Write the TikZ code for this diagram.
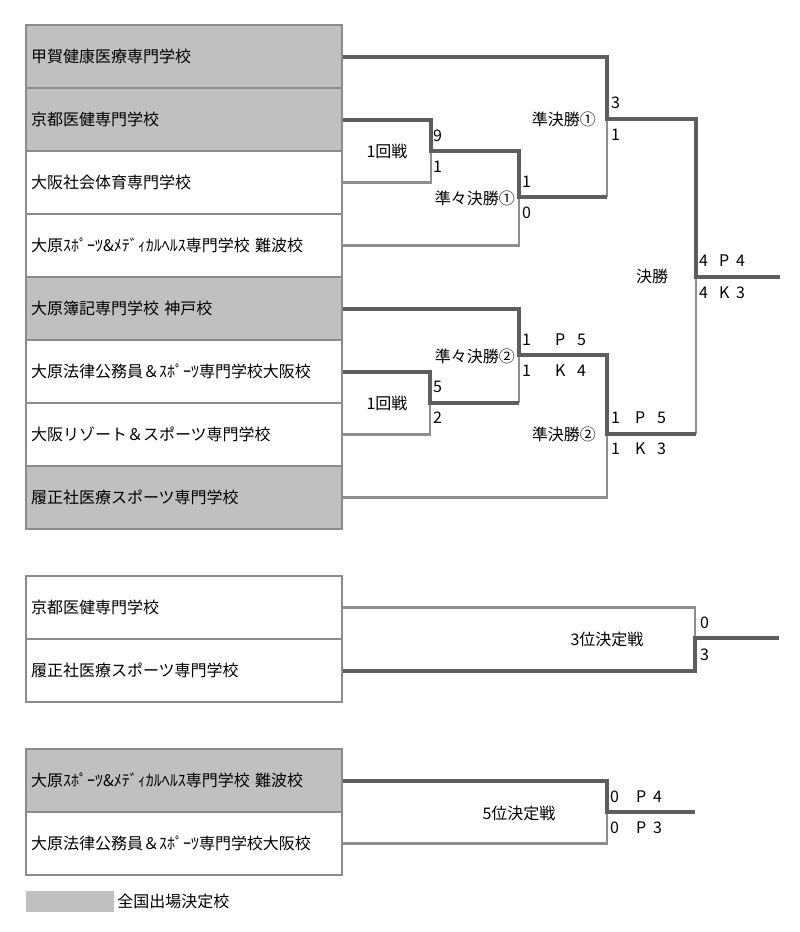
\documentclass[tikz,border=0pt]{standalone}
\usepackage{fontspec}
\setmainfont{Noto Sans CJK JP}
\definecolor{qual}{HTML}{C0C0C0}
\definecolor{boxline}{HTML}{8C8C8C}
\definecolor{winline}{HTML}{5E5E5E}
\definecolor{loseline}{HTML}{8E8E8E}
\newcommand{\pkscore}[5]{\makebox[#4][l]{#1}\makebox[#5][l]{#2}#3}

\begin{document}
\begin{tikzpicture}[x=1pt, y=-1pt, font=\fontsize{16pt}{19pt}\selectfont,
	team/.style={draw=boxline, line width=1.6pt, minimum height=63pt, text width=306pt, inner xsep=5pt, inner ysep=0pt, align=left},
	lbl/.style={inner sep=0pt},
	win/.style={line width=4pt, color=winline},
	lose/.style={line width=2.2pt, color=loseline}]
		\path[fill=white, use as bounding box] (0,0) rectangle (800,932);
		\begin{scope}
		\node[team, fill=qual] (t1) at (184,56.5) {甲賀健康医療専門学校};
		\node[team, fill=qual] (t2) at (184,119.5) {京都医健専門学校};
		\node[team] (t3) at (184,182.5) {大阪社会体育専門学校};
		\node[team] (t4) at (184,245.5) {大原ｽﾎﾟｰﾂ\&ﾒﾃﾞｨｶﾙﾍﾙｽ専門学校 難波校};
		\node[team, fill=qual] (t5) at (184,308.5) {大原簿記専門学校 神戸校};
		\node[team] (t6) at (184,371.5) {大原法律公務員＆ｽﾎﾟｰﾂ専門学校大阪校};
		\node[team] (t7) at (184,434.5) {大阪リゾート＆スポーツ専門学校};
		\node[team, fill=qual] (t8) at (184,497.5) {履正社医療スポーツ専門学校};
		\coordinate (r1a) at (431,151);
		\coordinate (qf1) at (519,197);
		\coordinate (sf1) at (607,119);
		\coordinate (fin) at (696,277);
		\coordinate (out) at (780,277);
		\coordinate (r1b) at (430,403);
		\coordinate (qf2) at (519,355);
		\coordinate (sf2) at (607,434);
		\draw[lose] (t3.east) -| (r1a);
		\draw[lose] (t4.east) -| (qf1);
		\draw[lose] (t7.east) -| (r1b);
		\draw[lose] (t8.east) -| (sf2);
		\draw[lose] (qf1 -| sf1) -- (sf1);
		\draw[lose] (r1b -| qf2) -- (qf2);
		\draw[lose] (sf2 -| fin) -- (fin);
		\draw[win] (t1.east) -| (sf1) -| (fin) -- (out);
		\draw[win] (t2.east) -| (r1a) -| (qf1) -- (qf1 -| sf1);
		\draw[win] (t5.east) -| (qf2) -| (sf2) -- (sf2 -| fin);
		\draw[win] (t6.east) -| (r1b) -- (r1b -| qf2);
		\node[lbl] (r1alabel) at (387,151) {1回戦};
		\node[lbl, anchor=west] (r1ahi) at (433,136) {9};
		\node[lbl, anchor=west] (r1alo) at (433,167) {1};
		\node[lbl, anchor=east] (qf1label) at (515,198) {準々決勝①};
		\node[lbl, anchor=west] (qf1hi) at (522,182) {1};
		\node[lbl, anchor=west] (qf1lo) at (522,213) {0};
		\node[lbl, anchor=east] (sf1label) at (596,119) {準決勝①};
		\node[lbl, anchor=west] (sf1hi) at (611,103) {3};
		\node[lbl, anchor=west] (sf1lo) at (611,135) {1};
		\node[lbl] (finlabel) at (652,276) {決勝};
		\node[lbl, anchor=west] (finhi) at (699,261) {\pkscore{4}{P}{4}{20pt}{17pt}};
		\node[lbl, anchor=west] (finlo) at (699,293) {\pkscore{4}{K}{3}{20pt}{17pt}};
		\node[lbl] (r1blabel) at (387,403) {1回戦};
		\node[lbl, anchor=west] (r1bhi) at (433,387) {5};
		\node[lbl, anchor=west] (r1blo) at (433,418) {2};
		\node[lbl, anchor=east] (qf2label) at (515,356) {準々決勝②};
		\node[lbl, anchor=west] (qf2hi) at (522,340) {\pkscore{1}{P}{5}{33pt}{22pt}};
		\node[lbl, anchor=west] (qf2lo) at (522,371) {\pkscore{1}{K}{4}{33pt}{22pt}};
		\node[lbl, anchor=east] (sf2label) at (596,434) {準決勝②};
		\node[lbl, anchor=west] (sf2hi) at (611,418) {\pkscore{1}{P}{5}{24pt}{22pt}};
		\node[lbl, anchor=west] (sf2lo) at (611,449) {\pkscore{1}{K}{3}{24pt}{22pt}};
		\end{scope}
		\begin{scope}
		\node[team] (b1) at (184,607.5) {京都医健専門学校};
		\node[team] (b2) at (184,670.5) {履正社医療スポーツ専門学校};
		\coordinate (p3) at (695,638);
		\coordinate (out3) at (779,638);
		\draw[lose] (b1.east) -| (p3);
		\draw[win] (b2.east) -| (p3) -- (out3);
		\node[lbl] (p3label) at (607,639) {3位決定戦};
		\node[lbl, anchor=west] (p3hi) at (700,623) {0};
		\node[lbl, anchor=west] (p3lo) at (700,655) {3};
		\end{scope}
		\begin{scope}
		\node[team, fill=qual] (c1) at (184,780.5) {大原ｽﾎﾟｰﾂ\&ﾒﾃﾞｨｶﾙﾍﾙｽ専門学校 難波校};
		\node[team] (c2) at (184,843.5) {大原法律公務員＆ｽﾎﾟｰﾂ専門学校大阪校};
		\coordinate (p5) at (607,812);
		\coordinate (out5) at (695,812);
		\draw[lose] (c2.east) -| (p5);
		\draw[win] (c1.east) -| (p5) -- (out5);
		\node[lbl] (p5label) at (519,813) {5位決定戦};
		\node[lbl, anchor=west] (p5hi) at (610,797) {\pkscore{0}{P}{4}{26pt}{17pt}};
		\node[lbl, anchor=west] (p5lo) at (610,828) {\pkscore{0}{P}{3}{26pt}{17pt}};
		\end{scope}
		\node[fill=qual, inner sep=0pt, minimum width=88pt, minimum height=21pt] (key) at (70,901.5) {};
		\node[lbl, anchor=west] (keytext) at ([xshift=3pt]key.east) {全国出場決定校};
	\end{tikzpicture}
\end{document}
